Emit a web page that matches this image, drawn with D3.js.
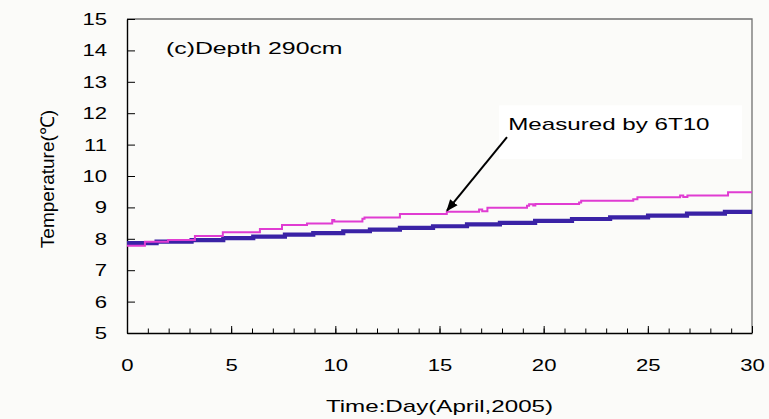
<!DOCTYPE html>
<html>
<head>
<meta charset="utf-8">
<script src="https://cdn.jsdelivr.net/npm/d3@7"></script>
<style>
  html, body { margin: 0; padding: 0; background: #fbfbf9; }
  text { font-family: "Liberation Sans", Arial, sans-serif; fill: #000; }
</style>
</head>
<body>
<div id="wrapper"></div>
<script>
// tick labels
var xTicks = [0, 5, 10, 15, 20, 25, 30];
var xMinorTicks = d3.range(0, 31, 1);
var yTicks = [5, 6, 7, 8, 9, 10, 11, 12, 13, 14, 15];

// calculated series (thick blue), step changes
var calcDays  = [0, 1.42, 3.1, 4.62, 6.06, 7.58, 8.94, 10.38, 11.66, 13.1, 14.69, 16.32, 17.9, 19.59, 21.36, 23.19, 25.01, 26.88, 28.7, 30];
var calcTemps = [7.86, 7.91, 7.96, 8.02, 8.07, 8.13, 8.18, 8.24, 8.29, 8.35, 8.40, 8.46, 8.51, 8.57, 8.63, 8.68, 8.74, 8.80, 8.86, 8.86];

// measured by 6T10 (thin magenta)
var measDays  = [0, 0.86, 1.97, 3.26, 4.6, 6.38, 7.44, 8.64, 9.85, 9.95, 11.3, 11.4, 13.1, 15.35, 16.9, 17.05, 17.3, 19.2, 19.3, 19.5, 19.6, 21.7, 21.8, 22.0, 24.3, 24.5, 26.55, 26.7, 26.9, 28.85, 30];
var measTemps = [7.78, 7.91, 7.96, 8.09, 8.21, 8.31, 8.44, 8.49, 8.60, 8.55, 8.64, 8.68, 8.79, 8.86, 8.93, 8.88, 8.99, 9.05, 9.10, 9.06, 9.11, 9.16, 9.21, 9.21, 9.26, 9.32, 9.38, 9.33, 9.38, 9.48, 9.48];

var dimension = {
    width: 769,
    height: 419,
    margin: { top: 19, left: 127, bottom: 86, right: 17 },
    fontSize: 17,
    stretch: 1.42,
    tickStretch: 1.3
}
dimension.boundedWidth = dimension.width - dimension.margin.left - dimension.margin.right;
dimension.boundedHeight = dimension.height - dimension.margin.top - dimension.margin.bottom;

// the original picture is wider than its fonts, so stretch text sideways
function stretchText(sel, k){
    sel.each(function(){
        var w = this.getComputedTextLength();
        d3.select(this).attr("textLength", w*k).attr("lengthAdjust", "spacingAndGlyphs");
    });
}

const svg = d3.select("#wrapper")
    .append("svg")
    .attr("width", dimension.width)
    .attr("height", dimension.height)
    .style("display", "block");

const bounded = svg.append("g")
    .attr("transform", `translate(${dimension.margin.left},${dimension.margin.top})`);

const xScaler = d3.scaleLinear().domain([0, 30]).range([0, dimension.boundedWidth]);
const yScaler = d3.scaleLinear().domain([5, 15]).range([dimension.boundedHeight, 0]);

// frame: top and right borders grey
bounded.append("path")
    .attr("d", `M0,${yScaler(15)}H${xScaler(30)}V${yScaler(5)}`)
    .attr("fill", "none")
    .attr("stroke", "#707070")
    .attr("stroke-width", 1.3);

// minor x ticks
bounded.append("g")
    .attr("transform", `translate(0,${dimension.boundedHeight})`)
    .call(d3.axisBottom(xScaler).tickValues(xMinorTicks).tickSizeInner(-4.5).tickSizeOuter(0).tickFormat(""))
    .call(g => g.select(".domain").remove())
    .selectAll("line").attr("stroke", "#000");

const xAxis = bounded.append("g")
    .attr("transform", `translate(0,${dimension.boundedHeight})`)
    .call(d3.axisBottom(xScaler).tickValues(xTicks).tickSizeInner(-7).tickSizeOuter(0).tickPadding(26));
xAxis.select(".domain").attr("stroke", "#000").attr("stroke-width", 1.4);
xAxis.selectAll("text").attr("font-size", dimension.fontSize).attr("font-family", null).call(stretchText, dimension.tickStretch);

const yAxis = bounded.append("g")
    .call(d3.axisLeft(yScaler).tickValues(yTicks).tickSizeInner(-8).tickSizeOuter(0).tickPadding(20));
yAxis.select(".domain").attr("stroke", "#000").attr("stroke-width", 1.4);
yAxis.selectAll("text").attr("font-size", dimension.fontSize).attr("font-family", null).call(stretchText, dimension.tickStretch);

// series
const line = d3.line()
    .x(d => xScaler(d[0]))
    .y(d => yScaler(d[1]))
    .curve(d3.curveStepAfter);

bounded.append("path")
    .datum(d3.zip(calcDays, calcTemps))
    .attr("d", line)
    .attr("fill", "none")
    .attr("stroke", "#3a22a6")
    .attr("stroke-width", 4.2);

bounded.append("path")
    .datum(d3.zip(measDays, measTemps))
    .attr("d", line)
    .attr("fill", "none")
    .attr("stroke", "#e03cd2")
    .attr("stroke-width", 2);

// annotation box + arrow
bounded.append("rect")
    .attr("x", xScaler(17.86))
    .attr("y", yScaler(12.25))
    .attr("width", xScaler(29.52) - xScaler(17.86))
    .attr("height", yScaler(10.54) - yScaler(12.25))
    .attr("fill", "#ffffff");

bounded.append("text")
    .attr("x", xScaler(18.3))
    .attr("y", yScaler(11.46))
    .attr("font-size", dimension.fontSize)
    .text("Measured by 6T10")
    .call(stretchText, dimension.stretch);

svg.append("defs").append("marker")
    .attr("id", "arrow")
    .attr("viewBox", "0 0 10 10")
    .attr("refX", 9).attr("refY", 5)
    .attr("markerWidth", 6).attr("markerHeight", 6)
    .attr("orient", "auto")
    .append("path")
    .attr("d", "M0,1L10,5L0,9z")
    .attr("fill", "#000");

bounded.append("line")
    .attr("x1", xScaler(18.24)).attr("y1", yScaler(11.24))
    .attr("x2", xScaler(15.36)).attr("y2", yScaler(8.9))
    .attr("stroke", "#000")
    .attr("stroke-width", 2)
    .attr("marker-end", "url(#arrow)");

bounded.append("text")
    .attr("x", xScaler(1.87))
    .attr("y", yScaler(13.89))
    .attr("font-size", dimension.fontSize)
    .text("(c)Depth 290cm")
    .call(stretchText, 1.46);

// axis titles
svg.append("text")
    .attr("x", dimension.margin.left + dimension.boundedWidth/2)
    .attr("y", 412)
    .attr("text-anchor", "middle")
    .attr("font-size", dimension.fontSize)
    .text("Time:Day(April,2005)")
    .call(stretchText, dimension.stretch);

svg.append("text")
    .attr("transform", `translate(54,179) rotate(-90)`)
    .attr("text-anchor", "middle")
    .attr("font-size", 19)
    .text("Temperature(℃)");
</script>
</body>
</html>
